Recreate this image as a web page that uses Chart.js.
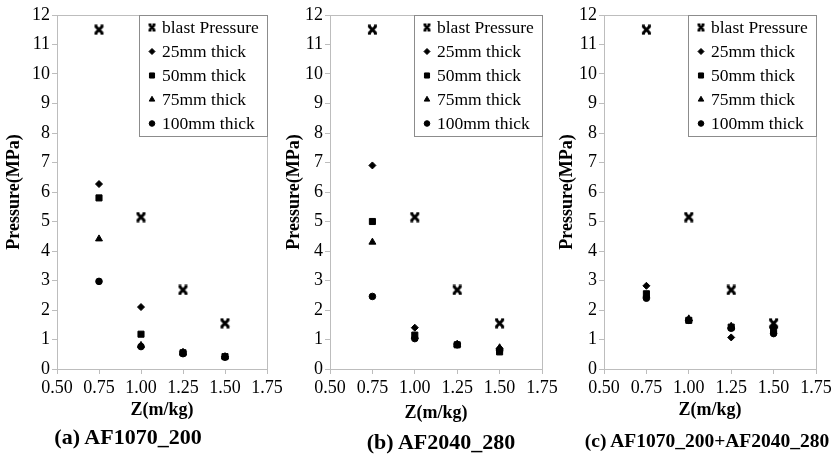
<!DOCTYPE html>
<html><head><meta charset="utf-8">
<script src="https://cdn.jsdelivr.net/npm/chart.js@4"></script>
<style>
html,body{margin:0;padding:0;background:#fff;width:832px;height:466px;overflow:hidden;position:relative;font-family:"Liberation Serif","Times New Roman",serif}
canvas{position:absolute;top:0}
.cap{position:absolute;font-weight:bold;white-space:nowrap;transform:translate(-50%,-50%);color:#000;font-family:"Liberation Serif","Times New Roman",serif}
</style></head><body>
<canvas id="ca" width="287" height="425" style="left:0px"></canvas>
<canvas id="cb" width="285" height="425" style="left:277px"></canvas>
<canvas id="cc" width="282" height="425" style="left:554px"></canvas>
<div class="cap" style="left:128px;top:437px;font-size:22px">(a) AF1070_200</div>
<div class="cap" style="left:441px;top:442px;font-size:22px">(b) AF2040_280</div>
<div class="cap" style="left:707px;top:441px;font-size:19.5px">(c) AF1070_200+AF2040_280</div>
<script>
// ---- data ----
const zValues = [0.75, 1.00, 1.25, 1.50];
const seriesNames = ['blast Pressure', '25mm thick', '50mm thick', '75mm thick', '100mm thick'];
const yTicks = [0,1,2,3,4,5,6,7,8,9,10,11,12];
const xTicks = [0.50, 0.75, 1.00, 1.25, 1.50, 1.75];
const blastPressure = [11.5, 5.15, 2.68, 1.55];

const a25mm  = [6.27, 2.10, 0.58, 0.42];
const a50mm  = [5.80, 1.18, 0.55, 0.42];
const a75mm  = [4.41, 0.80, 0.55, 0.42];
const a100mm = [2.97, 0.76, 0.52, 0.40];

const b25mm  = [6.90, 1.40, 0.85, 0.70];
const b50mm  = [5.00, 1.15, 0.82, 0.58];
const b75mm  = [4.30, 1.10, 0.83, 0.72];
const b100mm = [2.46, 1.03, 0.82, 0.62];

const c25mm  = [2.82, 1.65, 1.07, 1.40];
const c50mm  = [2.55, 1.65, 1.42, 1.30];
const c75mm  = [2.50, 1.70, 1.45, 1.45];
const c100mm = [2.40, 1.65, 1.38, 1.20];

// ---- styling ----
const FONT = "'Liberation Serif', 'Times New Roman', serif";
function blastMarker(s, lw) {
  const c = document.createElement('canvas');
  c.width = s; c.height = s;
  const g = c.getContext('2d');
  g.strokeStyle = '#000'; g.lineCap = 'butt';
  const p = 1.5, q = s - 1.5;
  g.lineWidth = lw;
  g.beginPath();
  g.moveTo(p + 0.3, p + 0.3); g.lineTo(q - 0.3, q - 0.3);
  g.moveTo(q - 0.3, p + 0.3); g.lineTo(p + 0.3, q - 0.3);
  g.stroke();
  g.lineWidth = 1.4;
  g.beginPath();
  g.moveTo(p - 0.5, p - 0.3); g.lineTo(p + 2.5, p - 0.3);
  g.moveTo(q - 2.5, p - 0.3); g.lineTo(q + 0.5, p - 0.3);
  g.moveTo(p - 0.5, q + 0.3); g.lineTo(p + 2.5, q + 0.3);
  g.moveTo(q - 2.5, q + 0.3); g.lineTo(q + 0.5, q + 0.3);
  g.stroke();
  return c;
}
const blastImg = blastMarker(11, 3);
const blastImgSmall = blastMarker(9, 2.5);
const styles = [
  {pointStyle: blastImg, radius: 5, legend: {pointStyle: blastImgSmall, radius: 4}},
  {pointStyle: 'rectRot', radius: 3.5, legend: {pointStyle: 'rectRot', radius: 3}},
  {pointStyle: 'rect', radius: 4.3, legend: {pointStyle: 'rect', radius: 3.6}},
  {pointStyle: 'triangle', radius: 4, legend: {pointStyle: 'triangle', radius: 3.2}},
  {pointStyle: 'circle', radius: 3.3, legend: {pointStyle: 'circle', radius: 2.8}}
];

const boxPlugin = {
  id: 'boxAndLegend',
  afterDraw(chart) {
    const ctx = chart.ctx, a = chart.chartArea;
    ctx.save();
    ctx.strokeStyle = '#bdbdbd'; ctx.lineWidth = 1;
    ctx.strokeRect(Math.round(a.left) + 0.5, Math.round(a.top) + 0.5, Math.round(a.right - a.left), Math.round(a.bottom - a.top));
    const w = 128, h = 121;
    const bx = Math.round(a.right) - w, by = Math.round(a.top);
    ctx.fillStyle = '#fff';
    ctx.fillRect(bx, by, w, h);
    ctx.strokeStyle = '#8c8c8c';
    ctx.strokeRect(bx + 0.5, by + 0.5, w, h);
    ctx.font = "17.5px " + FONT;
    ctx.textBaseline = 'middle';
    ctx.textAlign = 'left';
    chart.data.datasets.forEach((ds, i) => {
      const y = by + 12.5 + i * 24;
      const st = styles[i].legend;
      ctx.fillStyle = '#000'; ctx.strokeStyle = '#000';
      Chart.helpers.drawPoint(ctx, {pointStyle: st.pointStyle, radius: st.radius, rotation: 0, borderWidth: 1}, bx + 13, y);
      ctx.fillStyle = '#000';
      ctx.fillText(ds.label, bx + 23, y + 1);
    });
    ctx.restore();
  }
};

function makeChart(id, series, yWidth, titlePad, rightPad, xBottomPad) {
  const datasets = seriesNames.map((name, i) => ({
    label: name,
    data: zValues.map((z, k) => ({x: z, y: series[i][k]})),
    pointStyle: styles[i].pointStyle,
    pointRadius: styles[i].radius,
    pointHoverRadius: styles[i].radius,
    backgroundColor: '#000',
    borderColor: '#000',
    borderWidth: 1,
    showLine: false
  }));
  return new Chart(document.getElementById(id), {
    type: 'scatter',
    data: {datasets},
    plugins: [boxPlugin],
    options: {
      responsive: false,
      animation: false,
      events: [],
      layout: {padding: {top: 15, right: rightPad, left: 0, bottom: 0}},
      plugins: {legend: {display: false}, tooltip: {enabled: false}},
      scales: {
        x: {
          type: 'linear', min: 0.5, max: 1.75,
          afterBuildTicks: s => { s.ticks = xTicks.map(v => ({value: v})); },
          afterFit: s => { s.height = 56; },
          ticks: {color: '#000', font: {family: FONT, size: 18}, padding: 3,
                  callback: v => Number(v).toFixed(2), maxRotation: 0, autoSkip: false},
          grid: {display: true, drawOnChartArea: false, drawTicks: true, tickLength: 5, color: '#bdbdbd'},
          border: {color: '#bdbdbd'},
          title: {display: true, text: 'Z(m/kg)', color: '#000',
                  font: {family: FONT, size: 18, weight: 'bold'}, padding: {top: 0, bottom: xBottomPad}}
        },
        y: {
          type: 'linear', min: 0, max: 12,
          afterBuildTicks: s => { s.ticks = yTicks.map(v => ({value: v})); },
          afterFit: s => { s.width = yWidth; },
          ticks: {color: '#000', font: {family: FONT, size: 18}, padding: 2},
          grid: {display: true, drawOnChartArea: false, drawTicks: true, tickLength: 5, color: '#bdbdbd'},
          border: {color: '#bdbdbd'},
          title: {display: true, text: 'Pressure(MPa)', color: '#000',
                  font: {family: FONT, size: 18, weight: 'bold'}, padding: {top: titlePad, bottom: 0}}
        }
      }
    }
  });
}

function build() {
  Chart.defaults.font.family = FONT;
  makeChart('ca', [blastPressure, a25mm, a50mm, a75mm, a100mm], 57, 4, 20, 4);
  makeChart('cb', [blastPressure, b25mm, b50mm, b75mm, b100mm], 53, 7, 20, 1);
  makeChart('cc', [blastPressure, c25mm, c50mm, c75mm, c100mm], 50, 3, 20, 4);
}
Promise.all([
  document.fonts.load("18px 'Liberation Serif'"),
  document.fonts.load("bold 18px 'Liberation Serif'")
]).then(build, build);
</script>
</body></html>
